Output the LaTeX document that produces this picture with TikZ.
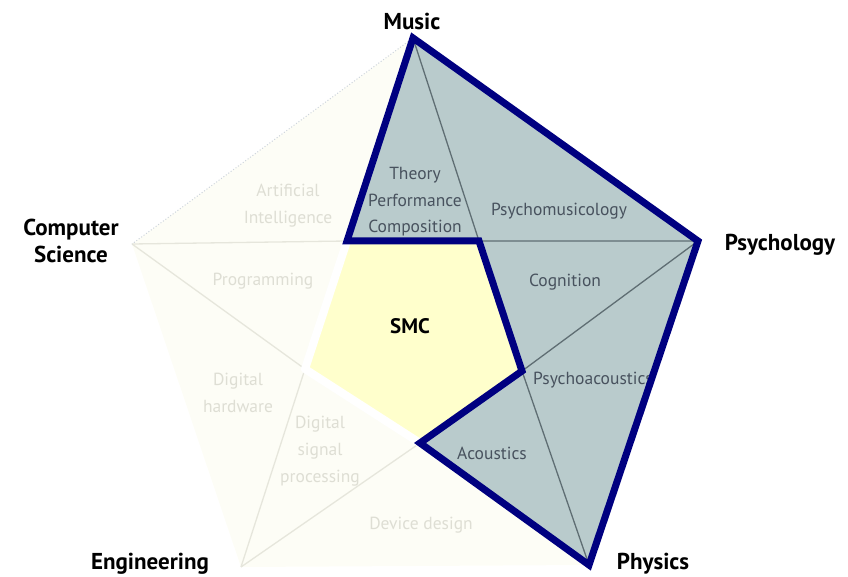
\documentclass[tikz,border=0pt]{standalone}
\usepackage{fontspec}
\setmainfont{PT Sans}
\definecolor{navyc}{RGB}{0,0,128}
\definecolor{grayfill}{RGB}{185,203,204}
\definecolor{thinl}{RGB}{95,110,115}
\definecolor{graytext}{RGB}{72,82,94}
\definecolor{smcfill}{RGB}{255,255,204}
\definecolor{palefill}{RGB}{253,253,246}
\definecolor{paleline}{RGB}{230,230,220}
\definecolor{paletext}{RGB}{222,222,212}
\definecolor{dotc}{RGB}{205,212,220}
\begin{document}
\begin{tikzpicture}[x=1pt,y=-1pt,
  outerlbl/.style={font=\fontsize{23}{27.5}\selectfont\bfseries, text=black, align=center, inner sep=0pt},
  graylbl/.style={font=\fontsize{17.5}{26.5}\selectfont, text=graytext, align=center, inner sep=0pt},
  palelbl/.style={font=\fontsize{17.5}{27}\selectfont, text=paletext, align=center, inner sep=0pt},
  thinline/.style={draw=thinl, line width=1.3pt},
  paleedge/.style={draw=paleline, line width=1.3pt},
  navyline/.style={draw=navyc, line width=7pt, line join=miter}]
\useasboundingbox (0,0) rectangle (848,577);
\coordinate (M) at (413,38);
\coordinate (P) at (698,241);
\coordinate (Ph) at (589,565);
\coordinate (E) at (241,567);
\coordinate (CS) at (132,244);
\coordinate (IA) at (347,241);
\coordinate (IB) at (479,241);
\coordinate (IC) at (522,371);
\coordinate (ID) at (420,443);
\coordinate (IE) at (305,369);
% pale outer ring
\fill[palefill] (CS) -- (M) -- (P) -- (Ph) -- (E) -- cycle;
\draw[paleedge] (CS) -- (IA) (CS) -- (IE) (IE) -- (E) (E) -- (ID);
\draw[dotc, line width=1pt, dotted] (M) -- (CS);
% SMC core
\fill[smcfill] (IA) -- (IB) -- (IC) -- (ID) -- (IE) -- cycle;
\draw[white, line width=8pt, line join=round] (IA) -- (IE) -- (ID);
% highlighted region
\fill[grayfill] (M) -- (P) -- (Ph) -- (ID) -- (IC) -- (IB) -- (IA) -- cycle;
\draw[thinline] (M) -- (IB) -- (P) -- (IC) -- (Ph);
% pale labels
\node[palelbl] (ai) at (288,206) {Artificial\\Intelligence};
\node[palelbl] (prog) at (263,281) {Programming};
\node[palelbl] (dh) at (238,393) {Digital\\hardware};
\node[palelbl] (dsp) at (320,451) {Digital\\signal\\processing};
\node[palelbl] (dd) at (421,525) {Device design};
% gray labels
\node[graylbl] (tpc) at (415,202) {Theory\\Performance\\Composition};
\node[graylbl] (pm) at (559,211) {Psychomusicology};
\node[graylbl] (cog) at (565,282) {Cognition};
\begin{scope}
\clip (M) -- (P) -- (Ph) -- (ID) -- (IC) -- (IB) -- (IA) -- cycle;
\node[graylbl, anchor=west] (pa) at (533,380) {Psychoacoustics};
\end{scope}
\node[graylbl] (ac) at (492,453) {Acoustics};
\node[font=\fontsize{21}{25}\selectfont\bfseries, inner sep=0pt] (smc) at (410,326) {SMC};
% outline
\draw[navyline] (M) -- (P) -- (Ph) -- (ID) -- (IC) -- (IB) -- (IA) -- cycle;
% outer labels
\node[outerlbl] (music) at (412,21) {Music};
\node[outerlbl] (psy) at (780,245) {Psychology};
\node[outerlbl] (phys) at (653,564) {Physics};
\node[outerlbl] (eng) at (150,564) {Engineering};
\node[outerlbl] (cs) at (71,241) {Computer\\Science};
\end{tikzpicture}
\end{document}
